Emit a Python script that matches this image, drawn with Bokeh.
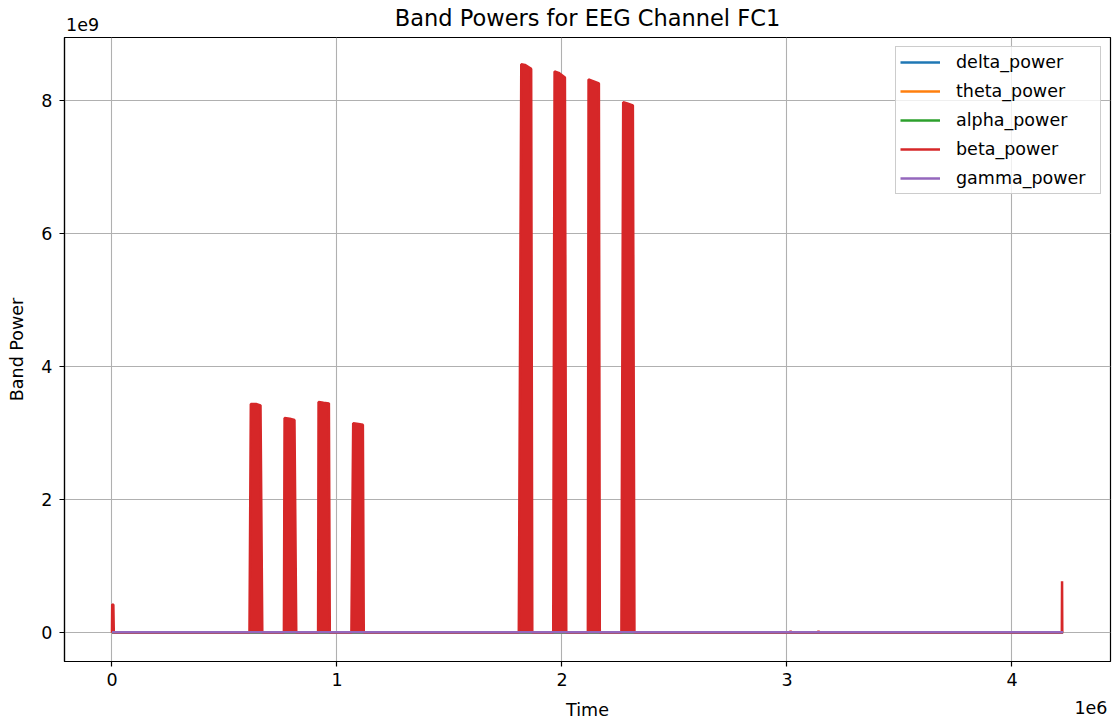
from bokeh.plotting import figure
from bokeh.layouts import column
from bokeh.models import Range1d, FixedTicker, Legend, LegendItem
from bokeh.core.properties import value
from bokeh.embed import file_html
from bokeh.resources import INLINE

# ---------------- data ----------------
band_time = [0.0, 0.5e6, 1.0e6, 1.5e6, 2.0e6, 2.5e6, 3.0e6, 3.5e6, 4.0e6, 4.227e6]
delta_power = [6e6, 5e6, 6e6, 5e6, 6e6, 5e6, 6e6, 5e6, 6e6, 5e6]
theta_power = [5e6, 4e6, 5e6, 4e6, 5e6, 4e6, 5e6, 4e6, 5e6, 4e6]
alpha_power = [4e6, 4e6, 5e6, 4e6, 4e6, 5e6, 4e6, 4e6, 5e6, 4e6]
gamma_power = [9e6, 9e6, 9e6, 9e6, 9e6, 9e6, 9e6, 9e6, 9e6, 9e6]

beta_time = [
    0.0, 0.001e6, 0.006e6, 0.008e6, 0.3e6,
    0.611e6, 0.617e6, 0.640e6, 0.660e6, 0.668e6,
    0.764e6, 0.767e6, 0.790e6, 0.811e6, 0.819e6,
    0.916e6, 0.918e6, 0.940e6, 0.964e6, 0.968e6,
    1.064e6, 1.072e6, 1.095e6, 1.115e6, 1.119e6,
    1.5e6,
    1.808e6, 1.819e6, 1.835e6, 1.863e6, 1.868e6,
    1.961e6, 1.967e6, 1.985e6, 2.013e6, 2.019e6,
    2.115e6, 2.118e6, 2.135e6, 2.164e6, 2.168e6,
    2.264e6, 2.272e6, 2.290e6, 2.315e6, 2.322e6,
    2.7e6, 3.014e6, 3.016e6, 3.018e6, 3.138e6, 3.140e6, 3.142e6,
    3.6e6, 4.2215e6, 4.2225e6, 4.2235e6, 4.227e6,
]
beta_power = [
    0.0, 0.43e9, 0.42e9, 0.004e9, 0.004e9,
    0.004e9, 3.44e9, 3.44e9, 3.42e9, 0.004e9,
    0.004e9, 3.23e9, 3.22e9, 3.20e9, 0.004e9,
    0.004e9, 3.47e9, 3.46e9, 3.45e9, 0.004e9,
    0.004e9, 3.15e9, 3.14e9, 3.13e9, 0.004e9,
    0.004e9,
    0.004e9, 8.55e9, 8.54e9, 8.48e9, 0.004e9,
    0.004e9, 8.44e9, 8.42e9, 8.35e9, 0.004e9,
    0.004e9, 8.32e9, 8.30e9, 8.26e9, 0.004e9,
    0.004e9, 7.98e9, 7.96e9, 7.93e9, 0.004e9,
    0.004e9, 0.004e9, 0.03e9, 0.004e9, 0.004e9, 0.03e9, 0.004e9,
    0.004e9, 0.004e9, 0.776e9, 0.004e9, 0.004e9,
]

x_ticks = [0, 1e6, 2e6, 3e6, 4e6]
x_tick_labels = ["0", "1", "2", "3", "4"]
y_ticks = [0, 2e9, 4e9, 6e9, 8e9]
y_tick_labels = ["0", "2", "4", "6", "8"]

series_names = ["delta_power", "theta_power", "alpha_power", "beta_power", "gamma_power"]
series_colors = ["#1f77b4", "#ff7f0e", "#2ca02c", "#d62728", "#9467bd"]

title_text = "Band Powers for EEG Channel FC1"
x_label = "Time"
y_label = "Band Power"
x_offset_text = "1e6"
y_offset_text = "1e9"

# ---------------- layout constants ----------------
FONT = "DejaVu Sans"
FS = "17.5px"
W = 1116
TOP_H = 37
BOT_H = 27
MAIN_H = 725 - TOP_H - BOT_H
FRAME_W = 1046
X0, X1 = -0.2111e6, 4.4378e6
Y0, Y1 = -0.4316e9, 8.952e9
PX = (X1 - X0) / FRAME_W   # data units per pixel along x


def strip(h):
    # frames of the column's children are aligned with the main plot's frame
    s = figure(width=W, height=h, output_backend="svg", toolbar_location=None,
               x_range=Range1d(X0, X1), y_range=Range1d(0, h),
               x_axis_type=None, y_axis_type=None, title=None,
               min_border_left=64, min_border_right=6,
               min_border_top=0, min_border_bottom=0)
    s.outline_line_color = None
    s.background_fill_color = "white"
    s.border_fill_color = "white"
    return s


# ---------------- top strip: title + y offset ----------------
top = strip(TOP_H)
top.text(x=[(X0 + X1) / 2], y=[TOP_H - 17], text=[title_text], text_align="center", text_baseline="middle",
         text_font=value(FONT), text_font_size=value("22.5px"), text_color="black")
top.text(x=[X0 + 1.5 * PX], y=[TOP_H - 24], text=[y_offset_text], text_align="left", text_baseline="middle",
         text_font=value(FONT), text_font_size=value(FS), text_color="black")

# ---------------- main plot ----------------
p = figure(width=W, height=MAIN_H, output_backend="svg", toolbar_location=None,
           title=None, x_range=Range1d(X0, X1), y_range=Range1d(Y0, Y1),
           min_border_left=64, min_border_right=6, min_border_top=0, min_border_bottom=MAIN_H - 624)
p.background_fill_color = "white"
p.border_fill_color = "white"
p.outline_line_color = "black"
p.outline_line_width = 1.2
p.outline_line_alpha = 1.0

p.xgrid.grid_line_color = "#b0b0b0"
p.ygrid.grid_line_color = "#b0b0b0"
p.xgrid.grid_line_width = 1.1
p.ygrid.grid_line_width = 1.1

p.xaxis.ticker = FixedTicker(ticks=x_ticks)
p.yaxis.ticker = FixedTicker(ticks=y_ticks)
p.xaxis.major_label_overrides = {t: l for t, l in zip(x_ticks, x_tick_labels)}
p.yaxis.major_label_overrides = {t: l for t, l in zip(y_ticks, y_tick_labels)}

for ax in (p.xaxis, p.yaxis):
    ax.axis_line_color = "black"
    ax.axis_line_width = 1.2
    ax.major_tick_line_color = "black"
    ax.major_tick_line_width = 1.2
    ax.major_tick_out = 5
    ax.major_tick_in = 0
    ax.minor_tick_line_color = None
    ax.major_label_text_font = FONT
    ax.major_label_text_font_size = FS
    ax.major_label_text_color = "black"
    ax.axis_label_text_font = FONT
    ax.axis_label_text_font_size = FS
    ax.axis_label_text_font_style = "normal"
    ax.axis_label_text_color = "black"

p.yaxis.axis_label = y_label
p.xaxis.major_label_standoff = 6
p.yaxis.major_label_standoff = 7
p.yaxis.axis_label_standoff = 11

renderers = []
band_values = [delta_power, theta_power, alpha_power, None, gamma_power]
for name, color, vals in zip(series_names, series_colors, band_values):
    if vals is None:
        p.varea(x=beta_time, y1=[0] * len(beta_time), y2=beta_power, fill_color=color, fill_alpha=1.0)
        r = p.line(beta_time, beta_power, line_color=color, line_width=2.5)
    else:
        r = p.line(band_time, vals, line_color=color, line_width=2.5)
    renderers.append(r)

legend = Legend(items=[LegendItem(label=n, renderers=[r]) for n, r in zip(series_names, renderers)],
                location="top_right", margin=9, padding=4, spacing=7,
                glyph_width=40, glyph_height=22, label_height=22, label_width=140, label_standoff=16,
                label_text_font=FONT, label_text_font_size=FS, label_text_color="black",
                border_line_color="#cccccc", border_line_width=1, border_line_alpha=1.0,
                background_fill_color="white", background_fill_alpha=0.8)
p.add_layout(legend)

# ---------------- bottom strip: x label + x offset ----------------
bot = strip(BOT_H)
bot.text(x=[(X0 + X1) / 2], y=[BOT_H - 11], text=[x_label], text_align="center", text_baseline="middle",
         text_font=value(FONT), text_font_size=value(FS), text_color="black")
bot.text(x=[X1 - 3 * PX], y=[BOT_H - 9], text=[x_offset_text], text_align="right", text_baseline="middle",
         text_font=value(FONT), text_font_size=value(FS), text_color="black")

layout = column(top, p, bot, spacing=0)
open("out.html", "w").write(file_html(layout, INLINE))
